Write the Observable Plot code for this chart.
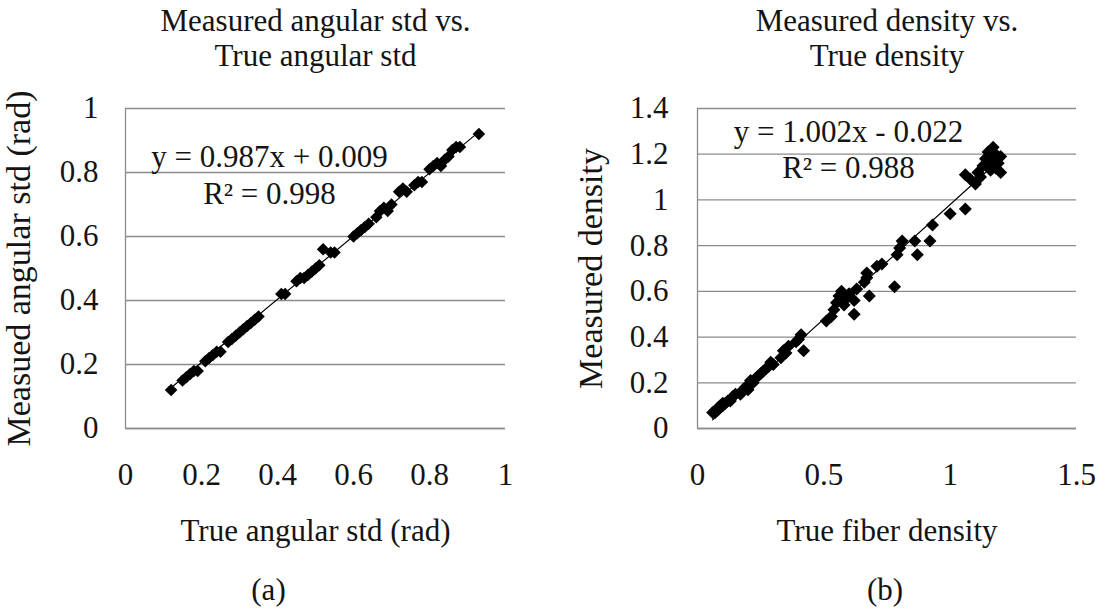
<!DOCTYPE html>
<html>
<head>
<meta charset="utf-8">
<script src="https://cdn.jsdelivr.net/npm/d3@7"></script>
<script src="https://cdn.jsdelivr.net/npm/@observablehq/plot@0.6"></script>
<style>
  html, body { margin: 0; padding: 0; background: #fff; }
  #fig { display: flex; width: 1102px; height: 613px; }
  #fig svg text { font-family: 'Liberation Serif', 'Times New Roman', Times, serif; }
</style>
</head>
<body>
<div id="fig"></div>
<script>
// (a) angular standard deviation: true vs. measured (rad)
const angTrue = [0.12, 0.15, 0.16, 0.17, 0.18, 0.19, 0.21, 0.22, 0.23, 0.24, 0.25, 0.27, 0.28, 0.29,
  0.30, 0.31, 0.32, 0.33, 0.34, 0.35, 0.41, 0.42, 0.45, 0.46, 0.47, 0.48, 0.49, 0.50, 0.51, 0.52,
  0.54, 0.55, 0.60, 0.61, 0.62, 0.63, 0.64, 0.66, 0.67, 0.68, 0.69, 0.70, 0.72, 0.73, 0.74, 0.76,
  0.77, 0.78, 0.80, 0.81, 0.82, 0.83, 0.84, 0.85, 0.86, 0.87, 0.88, 0.93];
const angMeasured = [0.12, 0.15, 0.16, 0.17, 0.18, 0.18, 0.21, 0.22, 0.23, 0.24, 0.24, 0.27, 0.28, 0.29,
  0.30, 0.31, 0.32, 0.33, 0.34, 0.35, 0.42, 0.42, 0.46, 0.47, 0.47, 0.48, 0.49, 0.50, 0.51, 0.56,
  0.55, 0.55, 0.60, 0.61, 0.62, 0.63, 0.64, 0.66, 0.68, 0.69, 0.68, 0.70, 0.74, 0.75, 0.74, 0.76,
  0.77, 0.77, 0.81, 0.82, 0.83, 0.82, 0.84, 0.85, 0.87, 0.88, 0.88, 0.92];
const slopeA = 0.987, interceptA = 0.009, r2A = 0.998;

// (b) fiber density: true vs. measured
const denTrue = [0.06, 0.07, 0.08, 0.08, 0.09, 0.10, 0.10, 0.11, 0.12, 0.13, 0.14, 0.15, 0.17, 0.18,
  0.19, 0.20, 0.20, 0.21, 0.22, 0.23, 0.24, 0.25, 0.26, 0.27, 0.28, 0.29, 0.30, 0.33, 0.34, 0.35,
  0.36, 0.39, 0.40, 0.41, 0.42, 0.51, 0.53, 0.54, 0.55, 0.56, 0.57, 0.57, 0.58, 0.59, 0.60, 0.62,
  0.62, 0.63, 0.66, 0.67, 0.67, 0.68, 0.71, 0.73, 0.78, 0.79, 0.80, 0.81, 0.86, 0.87, 0.92, 0.93,
  1.00, 1.06, 1.06, 1.08, 1.10, 1.11, 1.12, 1.13, 1.14, 1.15, 1.15, 1.16, 1.16, 1.17, 1.17, 1.18,
  1.18, 1.19, 1.19, 1.20, 1.20];
const denMeasured = [0.07, 0.07, 0.08, 0.09, 0.10, 0.10, 0.11, 0.11, 0.12, 0.12, 0.14, 0.15, 0.15, 0.17,
  0.18, 0.19, 0.17, 0.21, 0.20, 0.22, 0.23, 0.24, 0.25, 0.26, 0.27, 0.29, 0.28, 0.31, 0.34, 0.33,
  0.36, 0.38, 0.39, 0.41, 0.34, 0.47, 0.49, 0.52, 0.55, 0.58, 0.56, 0.60, 0.54, 0.57, 0.59, 0.50,
  0.56, 0.61, 0.64, 0.66, 0.68, 0.58, 0.71, 0.72, 0.62, 0.76, 0.79, 0.82, 0.82, 0.76, 0.82, 0.89,
  0.94, 0.96, 1.11, 1.09, 1.07, 1.12, 1.10, 1.15, 1.18, 1.21, 1.16, 1.13, 1.19, 1.23, 1.17, 1.20,
  1.14, 1.18, 1.16, 1.19, 1.12];
const slopeB = 1.002, interceptB = -0.022, r2B = 0.988;

// Tick values
const xTicksA = [0, 0.2, 0.4, 0.6, 0.8, 1];
const yTicksA = [0, 0.2, 0.4, 0.6, 0.8, 1];
const xTicksB = [0, 0.5, 1, 1.5];
const yTicksB = [0, 0.2, 0.4, 0.6, 0.8, 1, 1.2, 1.4];

const serif = "'Liberation Serif', 'Times New Roman', Times, serif";
const ink = "#141414";
const gridColor = "#8c8c8c";
const fmt = d => String(+d.toFixed(2));

// Square rotated 45° (Excel-style diamond marker)
const diamond = {
  draw(context, size) {
    const h = Math.sqrt(size / 2);
    context.moveTo(0, -h);
    context.lineTo(h, 0);
    context.lineTo(0, h);
    context.lineTo(-h, 0);
    context.closePath();
  }
};

function eqText(slope, intercept) {
  const sign = intercept < 0 ? "-" : "+";
  return `y = ${slope.toFixed(3)}x ${sign} ${Math.abs(intercept).toFixed(3)}`;
}

function scatter({xs, ys, slope, intercept, r2, xDomain, yDomain, xTicks, yTicks,
                  marginLeft, marginRight, title, xLabel, yLabel, caption, captionDx, eqDx, eqDy, yPad, r}) {
  const pts = xs.map((x, i) => ({x, y: ys[i]}));
  const [x0, x1] = d3.extent(xs);
  const fit = [x0, x1].map(x => ({x, y: slope * x + intercept}));
  const txt = {text: d => d, fill: ink, fontFamily: serif, lineAnchor: "bottom", textAnchor: "middle"};
  return Plot.plot({
    width: 551,
    height: 613,
    marginLeft,
    marginRight,
    marginTop: 108,
    marginBottom: 185,
    style: {fontFamily: serif, fontSize: "31px", color: ink, background: "#fff", overflow: "visible"},
    x: {domain: xDomain},
    y: {domain: yDomain},
    marks: [
      Plot.gridY(yTicks, {stroke: gridColor, strokeOpacity: 1, strokeWidth: 1.3}),
      Plot.ruleX([xDomain[0]], {stroke: gridColor, strokeWidth: 1.3}),
      Plot.ruleY([yDomain[0]], {stroke: gridColor, strokeWidth: 1.3}),
      Plot.axisY({ticks: yTicks, tickSize: 0, tickPadding: yPad, tickFormat: fmt, label: null,
        fontFamily: serif, fill: ink}),
      Plot.axisX({ticks: xTicks, tickSize: 0, tickPadding: 34, tickFormat: fmt, label: null,
        fontFamily: serif, fill: ink}),
      Plot.line(fit, {x: "x", y: "y", stroke: "#000", strokeWidth: 1.2}),
      Plot.dot(pts, {x: "x", y: "y", symbol: diamond, r, fill: "#000", stroke: "none"}),
      // trendline equation and R²
      Plot.text([eqText(slope, intercept)], {...txt, frameAnchor: "top-left", dx: eqDx, dy: eqDy[0]}),
      Plot.text([`R² = ${r2.toFixed(3)}`], {...txt, frameAnchor: "top-left", dx: eqDx, dy: eqDy[1]}),
      // chart title (two lines)
      Plot.text([title[0]], {...txt, frameAnchor: "top", dy: -78}),
      Plot.text([title[1]], {...txt, frameAnchor: "top", dy: -43}),
      // axis titles
      Plot.text([xLabel], {...txt, frameAnchor: "bottom", dy: 112}),
      Plot.text([yLabel], {...txt, frameAnchor: "left", dx: -96, rotate: -90, fontSize: 34}),
      // panel caption
      Plot.text([caption], {...txt, frameAnchor: "bottom", dx: captionDx, dy: 171})
    ]
  });
}

const fig = document.getElementById("fig");

fig.append(scatter({
  xs: angTrue, ys: angMeasured, slope: slopeA, intercept: interceptA, r2: r2A,
  xDomain: [0, 1], yDomain: [0, 1], xTicks: xTicksA, yTicks: yTicksA,
  marginLeft: 125, marginRight: 46,
  title: ["Measured angular std vs.", "True angular std"],
  xLabel: "True angular std (rad)", yLabel: "Measued angular std (rad)",
  caption: "(a)", captionDx: -47, eqDx: 144, eqDy: [58, 95], yPad: 27, r: 5
}));

fig.append(scatter({
  xs: denTrue, ys: denMeasured, slope: slopeB, intercept: interceptB, r2: r2B,
  xDomain: [0, 1.5], yDomain: [0, 1.4], xTicks: xTicksB, yTicks: yTicksB,
  marginLeft: 146, marginRight: 26,
  title: ["Measured density vs.", "True density"],
  xLabel: "True fiber density", yLabel: "Measured density",
  caption: "(b)", captionDx: -2, eqDx: 151, eqDy: [33, 69], yPad: 29, r: 5.2
}));
</script>
</body>
</html>
